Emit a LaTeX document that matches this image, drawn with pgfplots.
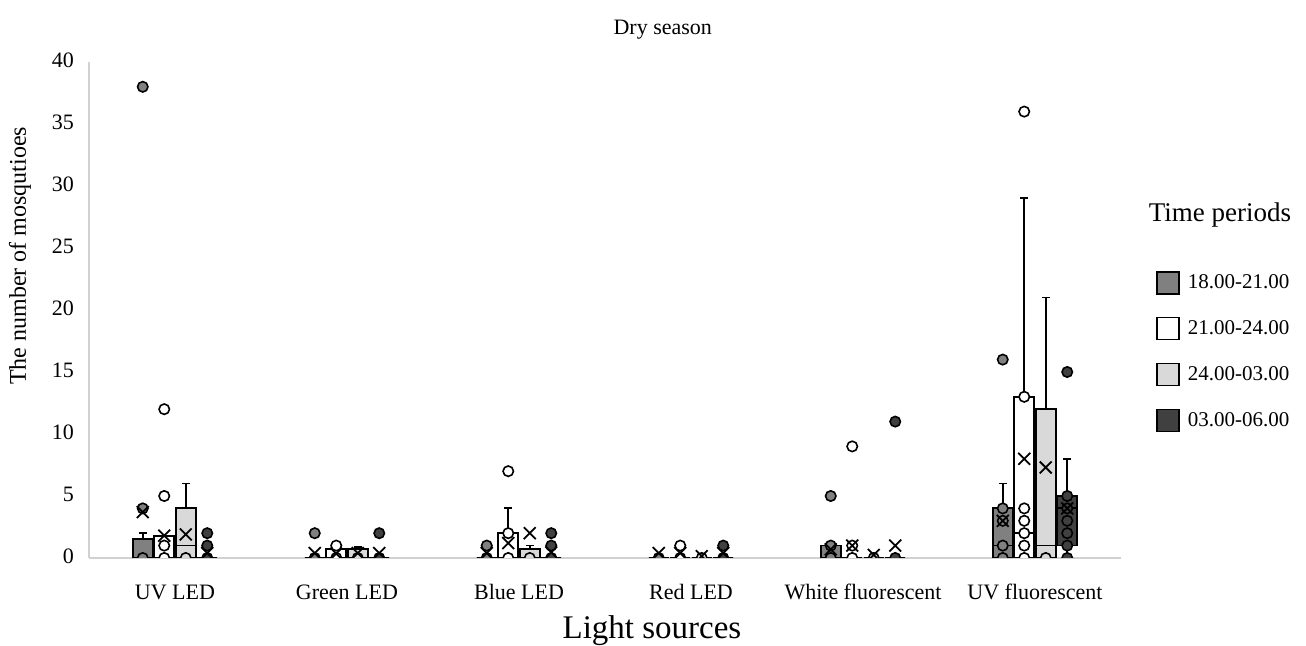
\documentclass[border=0pt]{standalone}
\usepackage{fontspec}
\setmainfont{Liberation Serif}
\usepackage{pgfplots}
\pgfplotsset{compat=1.18}
\usepgfplotslibrary{statistics}
\definecolor{cA}{HTML}{808080}
\definecolor{cB}{HTML}{FFFFFF}
\definecolor{cC}{HTML}{D9D9D9}
\definecolor{cD}{HTML}{404040}
\newcommand{\bp}[7]{\addplot[forget plot, draw=black, fill=#1, line width=0.9pt,
  boxplot/draw direction=y,
  boxplot prepared={draw position=#2, lower whisker=#3, lower quartile=#4, median=#5,
  upper quartile=#6, upper whisker=#7, box extend=0.116, whisker extend=0.045}] coordinates {};}
\begin{document}
\begin{tikzpicture}
\useasboundingbox (-44.5pt,-44pt) rectangle (608.5pt,279pt);
\begin{axis}[
  at={(0pt,0pt)}, anchor=south west,
  scale only axis, width=516pt, height=248pt,
  xmin=-0.5, xmax=5.5, ymin=0, ymax=40,
  axis x line=bottom, axis y line=left,
  axis line style={draw=black!18, line width=0.9pt, -},
  major tick length=0pt,
  xtick={0,1,2,3,4,5},
  xticklabels={UV LED, Green LED, Blue LED, Red LED, White fluorescent, UV fluorescent},
  typeset ticklabels with strut,
  ytick={0,5,10,15,20,25,30,35,40},
  /pgf/number format/assume math mode=true,
  tick label style={font=\fontsize{11}{13}\selectfont},
  xticklabel style={yshift=-8pt},
  yticklabel style={xshift=-4pt},
  title={Dry season},
  title style={at={(axis description cs:0.556,1)}, anchor=center, yshift=10pt, font=\fontsize{11}{13}\selectfont},
  xlabel={Light sources},
  xlabel style={at={(axis description cs:0.5455,0)}, anchor=center, yshift=-36.5pt, font=\fontsize{16.5}{19}\selectfont},
  ylabel={The number of mosqutioes},
  ylabel style={at={(axis description cs:-0.0669,0.609)}, anchor=center, font=\fontsize{12}{14}\selectfont},
  clip marker paths=true,
  legend cell align=left,
  legend style={at={(axis description cs:1.028,0.589)}, anchor=north west, draw=none, fill=none,
    font=\fontsize{10.5}{12}\selectfont, row sep=10.5pt,
    /tikz/every odd column/.append style={column sep=2pt}},
]
\addlegendimage{legend image code/.code={\draw[fill=cA,draw=black,line width=0.8pt] (0pt,-5.5pt) rectangle (11pt,5.5pt);}}
\addlegendentry{18.00-21.00}
\addlegendimage{legend image code/.code={\draw[fill=cB,draw=black,line width=0.8pt] (0pt,-5.5pt) rectangle (11pt,5.5pt);}}
\addlegendentry{21.00-24.00}
\addlegendimage{legend image code/.code={\draw[fill=cC,draw=black,line width=0.8pt] (0pt,-5.5pt) rectangle (11pt,5.5pt);}}
\addlegendentry{24.00-03.00}
\addlegendimage{legend image code/.code={\draw[fill=cD,draw=black,line width=0.8pt] (0pt,-5.5pt) rectangle (11pt,5.5pt);}}
\addlegendentry{03.00-06.00}

% UV LED
\bp{cA}{-0.1875}{0}{0}{0}{1.5}{2}
\bp{cB}{-0.0625}{0}{0}{0}{1.75}{1.75}
\bp{cC}{0.0625}{0}{0}{1}{4}{6}
\bp{cD}{0.1875}{0}{0}{0}{0}{0}
% Green LED
\bp{cA}{0.8125}{0}{0}{0}{0}{0}
\bp{cB}{0.9375}{0}{0}{0}{0.75}{1}
\bp{cC}{1.0625}{0}{0}{0}{0.75}{0.9}
\bp{cD}{1.1875}{0}{0}{0}{0}{0}
% Blue LED
\bp{cA}{1.8125}{0}{0}{0}{0}{0}
\bp{cB}{1.9375}{0}{0}{0}{2}{4}
\bp{cC}{2.0625}{0}{0}{0}{0.75}{1}
\bp{cD}{2.1875}{0}{0}{0}{0}{0}
% Red LED
\bp{cA}{2.8125}{0}{0}{0}{0}{0}
\bp{cB}{2.9375}{0}{0}{0}{0}{0}
\bp{cC}{3.0625}{0}{0}{0}{0}{0}
\bp{cD}{3.1875}{0}{0}{0}{0}{0}
% White fluorescent
\bp{cA}{3.8125}{0}{0}{0}{1}{1}
\bp{cB}{3.9375}{0}{0}{0}{0}{0}
\bp{cC}{4.0625}{0}{0}{0}{0}{0}
\bp{cD}{4.1875}{0}{0}{0}{0}{0}
% UV fluorescent
\bp{cA}{4.8125}{0}{0}{1}{4}{6}
\bp{cB}{4.9375}{0}{0}{2}{13}{29}
\bp{cC}{5.0625}{0}{0}{1}{12}{21}
\bp{cD}{5.1875}{0}{1}{4}{5}{8}

% points
\addplot[forget plot, only marks, mark=*, mark size=2.6pt, mark options={fill=cA, draw=black, line width=0.8pt}]
 coordinates {(-0.1875,38) (-0.1875,4) (-0.1875,0) (0.8125,2) (0.8125,0) (1.8125,1) (1.8125,0) (2.8125,0)
 (3.8125,5) (3.8125,1) (3.8125,0) (4.8125,16) (4.8125,4) (4.8125,3) (4.8125,1) (4.8125,0)};
\addplot[forget plot, only marks, mark=*, mark size=2.6pt, mark options={fill=cB, draw=black, line width=0.8pt}]
 coordinates {(-0.0625,12) (-0.0625,5) (-0.0625,1) (-0.0625,0) (0.9375,1) (0.9375,0) (1.9375,7) (1.9375,2) (1.9375,0)
 (2.9375,1) (2.9375,0) (3.9375,9) (3.9375,1) (3.9375,0)
 (4.9375,36) (4.9375,13) (4.9375,4) (4.9375,3) (4.9375,2) (4.9375,1) (4.9375,0)};
\addplot[forget plot, only marks, mark=*, mark size=2.6pt, mark options={fill=cC, draw=black, line width=0.8pt}]
 coordinates {(0.0625,0) (1.0625,0) (2.0625,0) (3.0625,0) (4.0625,0) (5.0625,0)};
\addplot[forget plot, only marks, mark=*, mark size=2.6pt, mark options={fill=cD, draw=black, line width=0.8pt}]
 coordinates {(0.1875,2) (0.1875,1) (0.1875,0) (1.1875,2) (1.1875,0) (2.1875,2) (2.1875,1) (2.1875,0)
 (3.1875,1) (3.1875,0) (4.1875,11) (4.1875,0)
 (5.1875,15) (5.1875,5) (5.1875,4) (5.1875,3) (5.1875,2) (5.1875,1) (5.1875,0)};

% means
\addplot[forget plot, only marks, mark=x, mark size=4.2pt, mark options={draw=black, line width=0.9pt}]
 coordinates {(-0.1875,3.7) (0.8125,0.4) (1.8125,0.4) (2.8125,0.4) (3.8125,0.7) (4.8125,3)
 (-0.0625,1.8) (0.9375,0.35) (1.9375,1.2) (2.9375,0.4) (3.9375,1.0) (4.9375,8)
 (0.0625,1.9) (1.0625,0.4) (2.0625,2.0) (3.0625,0.15) (4.0625,0.25) (5.0625,7.3)
 (0.1875,0.4) (1.1875,0.4) (2.1875,0.45) (3.1875,0.4) (4.1875,1.0) (5.1875,4)};
\end{axis}
\node[font=\fontsize{13.5}{16}\selectfont, anchor=center] at (565.5pt,171.5pt) {Time periods};
\end{tikzpicture}
\end{document}
